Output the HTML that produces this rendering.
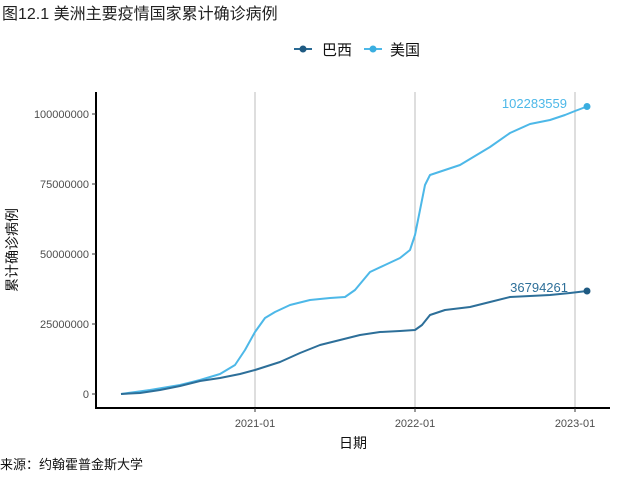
<!DOCTYPE html>
<html><head><meta charset="utf-8"><style>
body{margin:0;background:#fff;}
svg text{font-family:"Liberation Sans","Noto Sans CJK SC",sans-serif;}
</style></head><body>
<svg width="640" height="480" xmlns="http://www.w3.org/2000/svg">
<rect width="640" height="480" fill="#fff"/>
<text x="2" y="19" font-size="16" fill="#222">图12.1 美洲主要疫情国家累计确诊病例</text>
<!-- legend -->
<line x1="294" y1="49" x2="312" y2="49" stroke="#2a6a94" stroke-width="2"/>
<circle cx="303" cy="49" r="3.5" fill="#1f5a82"/>
<text x="322" y="55" font-size="15" fill="#111">巴西</text>
<line x1="364" y1="49" x2="382" y2="49" stroke="#4db8e8" stroke-width="2"/>
<circle cx="373" cy="49" r="3.5" fill="#3aaee0"/>
<text x="390" y="55" font-size="15" fill="#111">美国</text>
<!-- grid -->
<g stroke="#bdbdbd" stroke-width="1">
<line x1="255" y1="92" x2="255" y2="408"/>
<line x1="415" y1="92" x2="415" y2="408"/>
<line x1="575" y1="92" x2="575" y2="408"/>
</g>
<!-- axes -->
<line x1="96" y1="92" x2="96" y2="409" stroke="#000" stroke-width="2"/>
<line x1="95" y1="408" x2="610" y2="408" stroke="#000" stroke-width="2"/>
<g stroke="#333" stroke-width="1">
<line x1="92" y1="394" x2="96" y2="394"/><line x1="92" y1="324" x2="96" y2="324"/>
<line x1="92" y1="254" x2="96" y2="254"/><line x1="92" y1="184" x2="96" y2="184"/>
<line x1="92" y1="114" x2="96" y2="114"/>
<line x1="255" y1="408" x2="255" y2="412"/><line x1="415" y1="408" x2="415" y2="412"/><line x1="575" y1="408" x2="575" y2="412"/>
</g>
<g font-size="11" fill="#4d4d4d" text-anchor="end">
<text x="89" y="398">0</text><text x="89" y="328">25000000</text><text x="89" y="258">50000000</text>
<text x="89" y="188">75000000</text><text x="89" y="118">100000000</text>
</g>
<g font-size="11" fill="#4d4d4d" text-anchor="middle">
<text x="255" y="427">2021-01</text><text x="415" y="427">2022-01</text><text x="575" y="427">2023-01</text>
</g>
<text x="353" y="448" font-size="14" text-anchor="middle" fill="#111">日期</text>
<text transform="translate(17,250) rotate(-90)" font-size="14" text-anchor="middle" fill="#111">累计确诊病例</text>
<text x="0" y="469" font-size="13" fill="#111">来源：约翰霍普金斯大学</text>
<!-- series -->
<path fill="none" stroke="#4db8e8" stroke-width="2" stroke-linejoin="round" d="M121,394 L150,390 L180,385 L200,380 L220,374 L235,365 L245,350 L255,332 L265,318 L275,312 L290,305 L310,300 L330,298 L345,297 L355,290 L370,272 L385,265 L400,258 L410,250 L415,235 L420,210 L425,185 L430,175 L445,170 L460,165 L475,156 L490,147 L510,133 L530,124 L550,120 L565,115 L575,111 L587,106.5"/>
<path fill="none" stroke="#2d6f99" stroke-width="2" stroke-linejoin="round" d="M121,394 L140,393 L160,390 L180,386 L200,381 L220,378 L240,374 L255,370 L280,362 L300,353 L320,345 L340,340 L360,335 L380,332 L400,331 L415,330 L422,325 L430,315 L445,310 L470,307 L490,302 L510,297 L530,296 L550,295 L570,293 L587,291"/>
<circle cx="587" cy="106.5" r="3.5" fill="#3aaee0"/>
<circle cx="587" cy="291" r="3.5" fill="#1f5a82"/>
<text x="567" y="108" font-size="13" fill="#4db8e8" text-anchor="end">102283559</text>
<text x="568" y="292" font-size="13" fill="#2d6f99" text-anchor="end">36794261</text>
</svg>
</body></html>
